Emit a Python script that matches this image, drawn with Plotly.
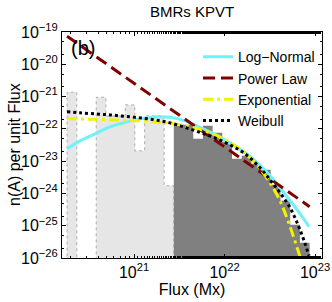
import plotly.graph_objects as go

# ---------------- data ----------------
bin_edges = [1.82e20, 2.33e20, 2.98e20, 3.82e20, 4.88e20, 6.25e20, 8.00e20, 1.02e21,
             1.31e21, 1.68e21, 2.15e21, 2.75e21, 3.52e21, 4.51e21, 5.77e21, 7.38e21,
             9.44e21, 1.21e22, 1.55e22, 1.98e22, 2.54e22, 3.24e22, 4.15e22, 5.32e22,
             6.81e22, 8.71e22]
light_counts = [1.36e-21, 0, 0, 9.55e-22, 2.5e-22, 2.5e-22, 5.52e-22, 2.08e-23,
                2.52e-22, 2.52e-22, 1.73e-24]
dark_counts = [1.33e-22, 1.33e-22, 4.90e-23, 1.24e-22, 7.52e-23, 3.96e-23, 1.18e-23,
               1.46e-23, 8.26e-24, 5.39e-24, 1.85e-24, 5.93e-25, 1.07e-25, 2.98e-26]

fit_flux = [1.82e20, 2.53e20, 3.71e20, 5.43e20, 7.96e20, 1.17e21, 1.71e21, 2.50e21,
            3.66e21, 5.36e21, 7.85e21, 1.15e22, 1.69e22, 2.47e22, 3.18e22, 4.10e22,
            5.30e22, 6.82e22, 8.59e22]
lognormal = [2.40e-23, 4.26e-23, 7.00e-23, 1.15e-22, 1.59e-22, 2.04e-22, 2.35e-22,
             2.27e-22, 1.77e-22, 1.11e-22, 6.76e-23, 3.56e-23, 1.81e-23, 7.43e-24,
             3.52e-24, 1.50e-24, 5.93e-25, 2.35e-25, 9.29e-26]
exponential = [2.04e-22, 2.04e-22, 1.97e-22, 1.90e-22, 1.83e-22, 1.77e-22, 1.64e-22,
               1.48e-22, 1.24e-22, 9.64e-23, 6.52e-23, 3.82e-23, 1.75e-23, 5.79e-24,
               2.13e-24, 5.93e-25, 9.29e-26, 1.10e-26]
weibull = [3.36e-22, 3.13e-22, 2.91e-22, 2.71e-22, 2.43e-22, 2.19e-22, 1.90e-22,
           1.53e-22, 1.11e-22, 7.78e-23, 5.26e-23, 3.20e-23, 1.68e-23, 6.21e-24,
           2.64e-24, 1.05e-24, 3.60e-25, 7.52e-26, 1.18e-26]
power_flux = [1.82e20, 8.71e22]
power_law = [7.41e-20, 3.89e-25]

x_tickvals = [1e21, 1e22, 1e23]
x_ticktext = ["10<sup>21</sup>", "10<sup>22</sup>", "10<sup>23</sup>"]
y_tickvals = [1e-19, 1e-20, 1e-21, 1e-22, 1e-23, 1e-24, 1e-25, 1e-26]
y_ticktext = ["10<sup>\u221219</sup>", "10<sup>\u221220</sup>", "10<sup>\u221221</sup>",
              "10<sup>\u221222</sup>", "10<sup>\u221223</sup>", "10<sup>\u221224</sup>",
              "10<sup>\u221225</sup>", "10<sup>\u221226</sup>"]

FLOOR = 1e-28
FONT = "Liberation Sans, Arial, Helvetica, sans-serif"


def stairs(edges, counts):
    xs, ys = [edges[0]], [FLOOR]
    for i, c in enumerate(counts):
        h = c if c > 0 else FLOOR
        xs += [edges[i], edges[i + 1]]
        ys += [h, h]
    xs.append(edges[len(counts)])
    ys.append(FLOOR)
    return xs, ys


fig = go.Figure()

lx, ly = stairs(bin_edges[:12], light_counts)
fig.add_trace(go.Scatter(x=lx, y=ly, mode="lines", fill="toself",
                         fillcolor="#e6e6e6",
                         line=dict(color="#adadad", width=1, dash="dot"),
                         showlegend=False, hoverinfo="skip"))
dx, dy = stairs(bin_edges[11:], dark_counts)
fig.add_trace(go.Scatter(x=dx, y=dy, mode="lines", fill="toself",
                         fillcolor="#808080", line=dict(width=0, color="#808080"),
                         showlegend=False, hoverinfo="skip"))

fig.add_trace(go.Scatter(x=fit_flux, y=lognormal, mode="lines", name="Log\u2212Normal",
                         line=dict(color="#6ff2f8", width=3, shape="spline")))
fig.add_trace(go.Scatter(x=power_flux, y=power_law, mode="lines", name="Power Law",
                         line=dict(color="#800000", width=3, dash="12px,6px")))
fig.add_trace(go.Scatter(x=fit_flux[:len(exponential)], y=exponential, mode="lines",
                         name="Exponential",
                         line=dict(color="#f2f200", width=3, dash="10px,4px,3px,4px",
                                   shape="spline")))
fig.add_trace(go.Scatter(x=fit_flux, y=weibull, mode="lines", name="Weibull",
                         line=dict(color="#000000", width=3, dash="3px,3px",
                                   shape="spline")))

axis_common = dict(type="log", showline=True, linecolor="black", linewidth=1,
                   mirror="allticks", ticks="inside", ticklen=4, tickcolor="black",
                   showgrid=False, zeroline=False, automargin=False,
                   tickfont=dict(family=FONT, size=16, color="black"),
                   minor=dict(ticks="inside", ticklen=2, tickcolor="black", showgrid=False))

fig.update_layout(
    width=332, height=302,
    margin=dict(l=62, r=10, t=32, b=44, autoexpand=False),
    paper_bgcolor="white", plot_bgcolor="white",
    font=dict(family=FONT, color="black"),
    title=dict(text="BMRs KPVT", x=0.5, xref="paper", y=1 - 12 / 302, yref="container",
               xanchor="center", yanchor="middle",
               font=dict(family=FONT, size=15, color="black")),
    xaxis=dict(axis_common, range=[20.204, 23.077], tickmode="array",
               tickvals=x_tickvals, ticktext=x_ticktext, ticklabeloverflow="allow",
               title=dict(text="Flux (Mx)", font=dict(family=FONT, size=16), standoff=0)),
    yaxis=dict(axis_common, range=[-26, -19], tickmode="array",
               tickvals=y_tickvals, ticktext=y_ticktext),
    legend=dict(x=0.523, y=0.959, xanchor="left", yanchor="top",
                bgcolor="rgba(0,0,0,0)", borderwidth=0,
                font=dict(family=FONT, size=14, color="black"),
                tracegroupgap=0, itemwidth=30),
    annotations=[
        dict(text="(b)", x=0.081, y=0.93, xref="paper", yref="paper",
             showarrow=False, xanchor="center", yanchor="middle",
             font=dict(family=FONT, size=20, color="black")),
        dict(text="n(A) per unit Flux", x=(14 - 62) / 260, y=0.5, xref="paper",
             yref="paper", textangle=-90, showarrow=False, xanchor="center",
             yanchor="middle", font=dict(family=FONT, size=16, color="black")),
    ],
)

fig.write_html("out.html", config={"displayModeBar": False},
               post_script="document.body.style.margin='0px';")
